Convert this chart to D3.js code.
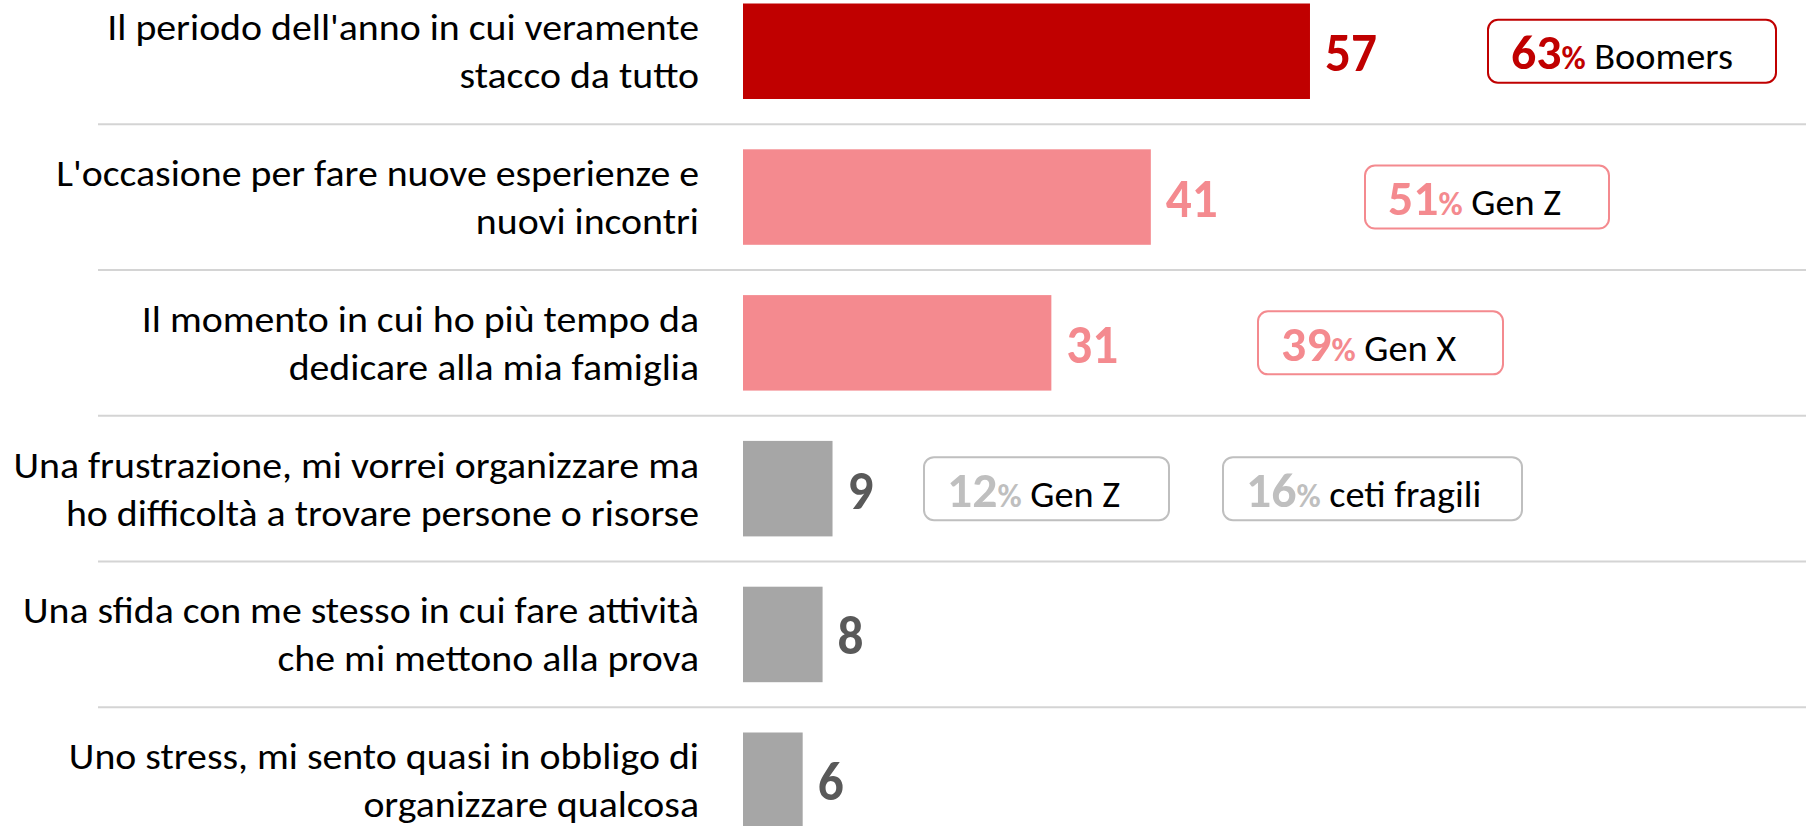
<!DOCTYPE html>
<html>
<head>
<meta charset="utf-8">
<script src="https://cdn.jsdelivr.net/npm/d3@7"></script>
<style>
  html, body { margin: 0; padding: 0; background: #fff; }
  svg { display: block; }
</style>
</head>
<body>
<svg id="chart" width="1806" height="826"></svg>
<script>
// ---------- data ----------
const categories = [
  "Il periodo dell'anno in cui veramente\nstacco da tutto",
  "L'occasione per fare nuove esperienze e\nnuovi incontri",
  "Il momento in cui ho più tempo da\ndedicare alla mia famiglia",
  "Una frustrazione, mi vorrei organizzare ma\nho difficoltà a trovare persone o risorse",
  "Una sfida con me stesso in cui fare attività\nche mi mettono alla prova",
  "Uno stress, mi sento quasi in obbligo di\norganizzare qualcosa"
];
const values = [57, 41, 31, 9, 8, 6];
const tones = ["top", "high", "high", "low", "low", "low"];

const calloutRow = [0, 1, 2, 3, 3];
const calloutValue = [63, 51, 39, 12, 16];
const calloutGroup = ["Boomers", "Gen Z", "Gen X", "Gen Z", "ceti fragili"];

// ---------- layout / style ----------
const boxX = [1488, 1365, 1258, 924, 1223];
const boxW = [288, 244, 245, 245, 299];
const barColor = { top: "#C00000", high: "#F48A8F", low: "#A6A6A6" };
const valueColor = { top: "#C00000", high: "#F48A8F", low: "#595959" };
const calloutNumColor = { top: "#C00000", high: "#F48A8F", low: "#BFBFBF" };
const boxStroke = { top: "#C00000", high: "#F48A8F", low: "#BFBFBF" };
const FONT = "Carlito, Calibri, 'Open Sans', 'Noto Sans', sans-serif";

const svg = d3.select("#chart");

const x = d3.scaleLinear().domain([0, 100]).range([743, 1737.7]);
const step = 145.8;
const y = d3.scaleBand()
  .domain(d3.range(categories.length))
  .range([-21.65, -21.65 + step * categories.length])
  .paddingInner(0.345)
  .paddingOuter(0.1725);
const bh = y.bandwidth();
const gap = y.step() - bh;
const cy = i => y(i) + bh / 2;

// measure helper for horizontal fitting of substitute fonts
function measure(text, size, weight) {
  const t = svg.append("text").attr("font-family", FONT).attr("font-size", size)
    .attr("font-weight", weight).text(text);
  const w = t.node().getComputedTextLength();
  t.remove();
  return w;
}
const sxReg = 592 / measure("Il periodo dell'anno in cui veramente", 37, "normal");
const sxBold = 52 / measure("57", 54, "bold");

// separators
svg.append("g").selectAll("line")
  .data(d3.range(1, categories.length))
  .join("line")
  .attr("x1", 98).attr("x2", 1806)
  .attr("y1", i => y(i) - gap / 2).attr("y2", i => y(i) - gap / 2)
  .attr("stroke", "#D4D4D4").attr("stroke-width", 2);

// bars
svg.append("g").selectAll("rect")
  .data(values)
  .join("rect")
  .attr("x", x(0))
  .attr("y", (d, i) => y(i))
  .attr("width", d => x(d) - x(0))
  .attr("height", bh)
  .attr("fill", (d, i) => barColor[tones[i]]);

// category labels
const lab = svg.append("g").selectAll("g")
  .data(categories)
  .join("g")
  .attr("transform", (d, i) => `translate(699,${cy(i)}) scale(${sxReg},1)`);
lab.each(function (d) {
  const lines = d.split("\n");
  const g = d3.select(this);
  lines.forEach((ln, k) => {
    g.append("text")
      .attr("x", 0)
      .attr("y", k === 0 ? -11 : 37)
      .attr("text-anchor", "end")
      .attr("font-family", FONT)
      .attr("font-size", 37)
      .attr("fill", "#000")
      .text(ln);
  });
});

// value labels
svg.append("g").selectAll("text")
  .data(values)
  .join("text")
  .attr("transform", (d, i) => `translate(${x(d) + 15},${cy(i) + 20}) scale(${sxBold},1)`)
  .attr("font-family", FONT)
  .attr("font-size", 54)
  .attr("font-weight", "bold")
  .attr("fill", (d, i) => valueColor[tones[i]])
  .text(d => d);

// callouts
const co = svg.append("g").selectAll("g")
  .data(calloutValue)
  .join("g");
co.append("rect")
  .attr("x", (d, j) => boxX[j])
  .attr("y", (d, j) => cy(calloutRow[j]) - 31.5)
  .attr("width", (d, j) => boxW[j])
  .attr("height", 63)
  .attr("rx", 10).attr("ry", 10)
  .attr("fill", "#fff")
  .attr("stroke", (d, j) => boxStroke[tones[calloutRow[j]]])
  .attr("stroke-width", 2);
const ct = co.append("text")
  .attr("font-family", FONT)
  .each(function (d, j) {
    const t = d3.select(this);
    const c = calloutNumColor[tones[calloutRow[j]]];
    t.append("tspan").attr("font-size", 48).attr("font-weight", "bold").attr("fill", c).text(d);
    t.append("tspan").attr("font-size", 32).attr("font-weight", "bold").attr("fill", c).text("%");
    t.append("tspan").attr("font-size", 37).attr("fill", "#000").text(" " + calloutGroup[j]);
  });
const sxCall = 222 / ct.nodes()[0].getComputedTextLength();
ct.attr("transform", (d, j) => `translate(${boxX[j] + 23},${cy(calloutRow[j]) + 18}) scale(${sxCall},1)`);
</script>
</body>
</html>
